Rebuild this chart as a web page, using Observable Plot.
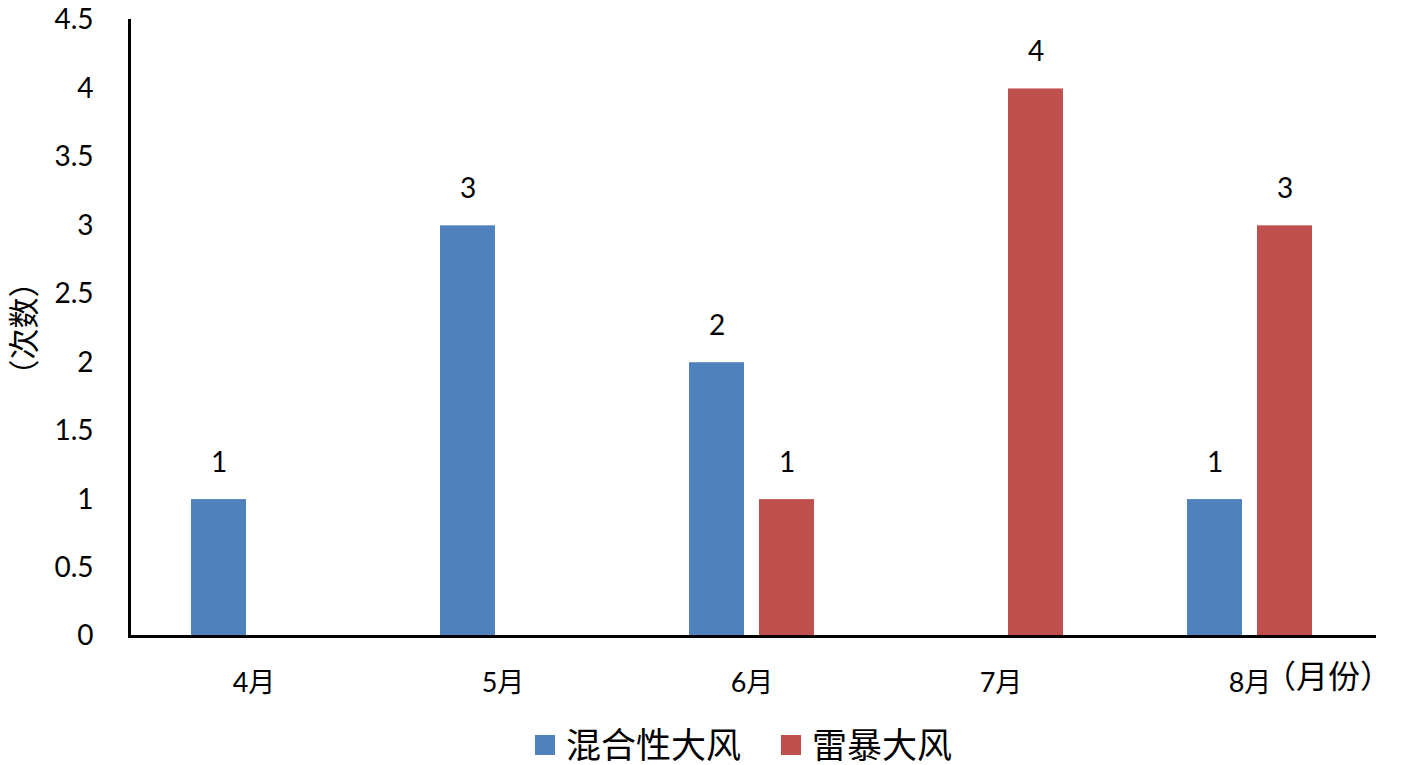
<!DOCTYPE html>
<html>
<head>
<meta charset="utf-8">
<script src="https://cdn.jsdelivr.net/npm/d3@7"></script>
<script src="https://cdn.jsdelivr.net/npm/@observablehq/plot@0.6"></script>
<style>
  html, body { margin: 0; padding: 0; background: #fff; }
  #wrap { position: relative; width: 1417px; height: 765px; overflow: hidden; }
  #legend { position: absolute; top: 725px; left: 535px; display: flex; align-items: center;
    font-family: "Noto Sans CJK SC", sans-serif; font-size: 35px; line-height: 36px; color: #000; }
  .item { display: flex; align-items: center; margin-right: 40px; }
  .sw { width: 20px; height: 20px; margin-right: 11px; margin-top: 4px; }
</style>
</head>
<body>
<div id="wrap"><div id="chart"></div><div id="legend"></div></div>
<script>
const months = ["4月", "5月", "6月", "7月", "8月"];
const seriesNames = ["混合性大风", "雷暴大风"];
const mixedCounts = [1, 3, 2, 0, 1];
const thunderCounts = [0, 0, 1, 4, 3];
const yTicks = [0, 0.5, 1, 1.5, 2, 2.5, 3, 3.5, 4, 4.5];
const seriesColors = ["#4F81BD", "#C0504D"];
const yLabel = "（次数）";
const xUnit = "（月份）";

const data = months.flatMap((m, i) => [
  {month: m, series: seriesNames[0], value: mixedCounts[i]},
  {month: m, series: seriesNames[1], value: thunderCounts[i]}
]).filter(d => d.value > 0);

const font = "Lato, 'Noto Sans CJK SC', sans-serif";
const cjk = "'Noto Sans CJK SC', sans-serif";

const chart = Plot.plot({
  width: 1417,
  height: 712,
  marginLeft: 128,
  marginRight: 42,
  marginTop: 20,
  marginBottom: 76,
  style: {fontFamily: font, fontSize: "28px", color: "#000", background: "#fff"},
  fx: {domain: months, padding: 0, label: null},
  x: {domain: seriesNames, paddingInner: 0.21, paddingOuter: 0.86, axis: null},
  y: {domain: [0, 4.5], label: null},
  color: {domain: seriesNames, range: seriesColors},
  marks: [
    Plot.barY(data, {fx: "month", x: "series", y: "value", fill: "series"}),
    Plot.text(data, {fx: "month", x: "series", y: "value", text: d => String(d.value), dy: -37, fontSize: 28, fill: "#000"}),
    Plot.axisY({ticks: yTicks, tickSize: 0, tickPadding: 36, tickFormat: d => String(d), fontSize: 28, label: null}),
    Plot.axisFx({anchor: "bottom", tickSize: 0, tickPadding: 36, fontSize: 27, label: null}),
    Plot.text([xUnit], {fx: ["8月"], frameAnchor: "bottom", text: d => d, textAnchor: "start", dx: 14, dy: 51, fontSize: 32, fontFamily: cjk, fill: "#000"}),
    Plot.text([yLabel], {facet: "super", frameAnchor: "left", text: d => d, textAnchor: "middle", rotate: -90, dx: -104, fontSize: 31, fontFamily: cjk, fill: "#000"}),
    Plot.frame({anchor: "left", facet: "super", stroke: "#000", strokeWidth: 3}),
    Plot.frame({anchor: "bottom", facet: "super", stroke: "#000", strokeWidth: 3})
  ]
});
document.getElementById("chart").appendChild(chart);

const legend = document.getElementById("legend");
seriesNames.forEach((name, i) => {
  const item = document.createElement("div");
  item.className = "item";
  const sw = document.createElement("div");
  sw.className = "sw";
  sw.style.background = seriesColors[i];
  const label = document.createElement("span");
  label.textContent = name;
  item.appendChild(sw);
  item.appendChild(label);
  legend.appendChild(item);
});
</script>
</body>
</html>
